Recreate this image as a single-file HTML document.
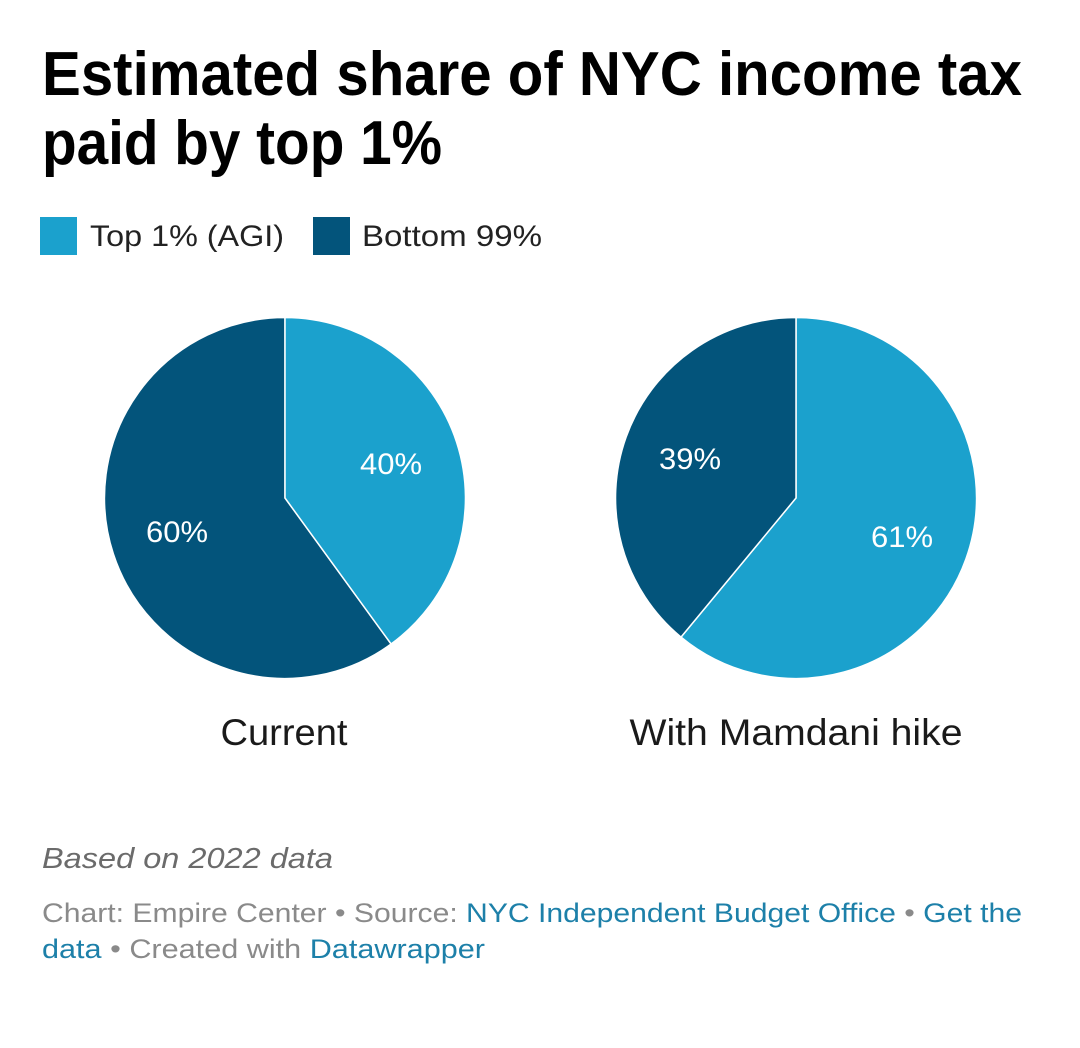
<!DOCTYPE html>
<html><head><meta charset="utf-8"><style>
html,body{margin:0;padding:0;background:#fff;}
svg{display:block;font-family:"Liberation Sans",Arial,sans-serif;}
</style></head><body>
<svg width="1080" height="1048" viewBox="0 0 1080 1048" xmlns="http://www.w3.org/2000/svg">
<rect width="1080" height="1048" fill="#fff"/>
<text x="42" y="95" font-size="62" font-weight="bold" fill="#000" textLength="980" lengthAdjust="spacingAndGlyphs">Estimated share of NYC income tax</text>
<text x="42" y="164" font-size="62" font-weight="bold" fill="#000" textLength="400" lengthAdjust="spacingAndGlyphs">paid by top 1%</text>
<rect x="40" y="217" width="37" height="38" fill="#1ba1cd"/>
<text x="90" y="246" font-size="30" fill="#222" textLength="194" lengthAdjust="spacingAndGlyphs">Top 1% (AGI)</text>
<rect x="313" y="217" width="37" height="38" fill="#03547b"/>
<text x="362" y="246" font-size="30" fill="#222" textLength="180" lengthAdjust="spacingAndGlyphs">Bottom 99%</text>

<g stroke="#fff" stroke-width="1.5">
<path d="M285,498 L285,317.5 A180.5,180.5 0 1,0 391.1,644 Z" fill="#03547b"/>
<path d="M285,498 L285,317.5 A180.5,180.5 0 0,1 391.1,644 Z" fill="#1ba1cd"/>
<path d="M796,498 L796,317.5 A180.5,180.5 0 1,1 681,637.1 Z" fill="#1ba1cd"/>
<path d="M796,498 L796,317.5 A180.5,180.5 0 0,0 681,637.1 Z" fill="#03547b"/>
</g>
<g font-size="30" fill="#fff" text-anchor="middle">
<text x="391" y="474" textLength="62" lengthAdjust="spacingAndGlyphs">40%</text>
<text x="177" y="542" textLength="62" lengthAdjust="spacingAndGlyphs">60%</text>
<text x="690" y="469" textLength="62" lengthAdjust="spacingAndGlyphs">39%</text>
<text x="902" y="547" textLength="62" lengthAdjust="spacingAndGlyphs">61%</text>
</g>
<g font-size="37" fill="#1a1a1a" text-anchor="middle">
<text x="284" y="745" textLength="127" lengthAdjust="spacingAndGlyphs">Current</text>
<text x="796" y="745" textLength="333" lengthAdjust="spacingAndGlyphs">With Mamdani hike</text>
</g>
<text x="42" y="868" font-size="29" font-style="italic" fill="#6b6b6b" textLength="291" lengthAdjust="spacingAndGlyphs">Based on 2022 data</text>
<text x="42" y="922" font-size="27" fill="#8a8a8a" textLength="980" lengthAdjust="spacingAndGlyphs">Chart: Empire Center • Source: <tspan fill="#1d80a9">NYC Independent Budget Office</tspan> • <tspan fill="#1d80a9">Get the</tspan></text>
<text x="42" y="958" font-size="27" fill="#8a8a8a" textLength="443" lengthAdjust="spacingAndGlyphs"><tspan fill="#1d80a9">data</tspan> • Created with <tspan fill="#1d80a9">Datawrapper</tspan></text>
</svg>
</body></html>
